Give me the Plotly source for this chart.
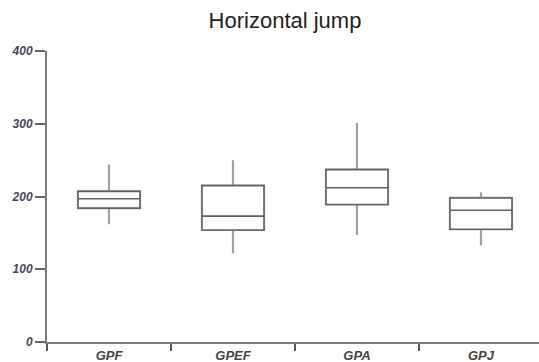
import plotly.graph_objects as go

groups = ["GPF", "GPEF", "GPA", "GPJ"]
lower = [162, 122, 147, 133]
q1 = [184, 154, 189, 155]
median = [197, 173, 212, 181]
q3 = [207, 215, 237, 198]
upper = [244, 250, 301, 206]
y_ticks = [0, 100, 200, 300, 400]

fig = go.Figure()
# whiskers (lighter grey)
fig.add_trace(go.Box(
    x=groups, q1=q1, median=median, q3=q3,
    lowerfence=lower, upperfence=upper,
    width=0.5, whiskerwidth=0,
    line=dict(color="#a0a0a0", width=2.2),
    fillcolor="white", boxpoints=False, hoverinfo="skip",
    showlegend=False,
))
# box body (darker outline)
fig.add_trace(go.Box(
    x=groups, q1=q1, median=median, q3=q3,
    lowerfence=q1, upperfence=q3,
    width=0.5, whiskerwidth=0,
    line=dict(color="#606060", width=1.6),
    fillcolor="white", boxpoints=False,
    showlegend=False,
))

fig.update_layout(
    width=539, height=362,
    margin=dict(l=47, r=0, t=51, b=20),
    paper_bgcolor="white", plot_bgcolor="white",
    title=dict(text="Horizontal jump", x=285/539, xref="container", xanchor="center",
               y=0.945, yanchor="middle",
               font=dict(family="Liberation Sans, Arial", size=22, color="#222")),
    boxmode="overlay",
    font=dict(family="Liberation Sans, Arial"),
)
fig.update_xaxes(
    range=[-0.5, 3.468], showgrid=False, zeroline=False,
    showline=True, linecolor="#7a7a7a", linewidth=2,
    ticks="outside", tickson="boundaries", ticklen=7, tickcolor="#555", tickwidth=1.5,
    tickfont=dict(size=13, color="#444", weight="bold", style="italic"),
)
fig.update_yaxes(
    range=[0, 400], tickvals=y_ticks, showgrid=False, zeroline=False,
    showline=True, linecolor="#7a7a7a", linewidth=2,
    ticks="outside", ticklen=10, tickcolor="#666", tickwidth=1.5,
    tickfont=dict(size=12, color="#3f4a5a", weight="bold", style="italic"),
)

fig.write_html("out.html", config={"displayModeBar": False},
               post_script="document.body.style.margin='0';document.body.style.overflow='hidden';")
